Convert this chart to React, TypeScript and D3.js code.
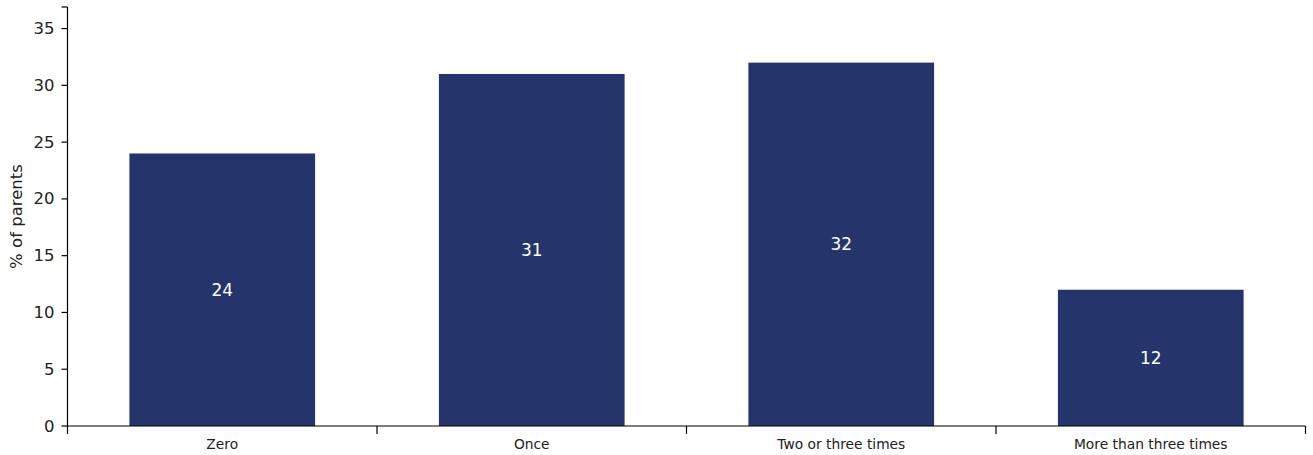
import React from "react";
import * as d3 from "d3";

const categories = ["Zero", "Once", "Two or three times", "More than three times"];
const values = [24, 31, 32, 12];
const yTicks = [0, 5, 10, 15, 20, 25, 30, 35];
const yMax = 36.9;

const W = 1313;
const H = 455;
const left = 67.5;
const right = 1305.5;
const top = 7;
const bottom = 426;
const font = "DejaVu Sans, sans-serif";
const barColor = "#25356b";

export default function App() {
  const x = d3.scaleBand<string>().domain(categories).range([left, right]).paddingInner(0.4).paddingOuter(0.2);
  const y = d3.scaleLinear().domain([0, yMax]).range([bottom, top]);
  const step = x.step();
  const boundaries = d3.range(categories.length + 1).map((i) => left + i * step);

  return (
    <svg width={W} height={H} style={{ position: "absolute", left: 0, top: 0, background: "#fff" }}>
      {categories.map((c, i) => (
        <g key={c}>
          <rect x={x(c)} y={y(values[i])} width={x.bandwidth()} height={bottom - y(values[i])} fill={barColor} />
          <text
            x={(x(c) as number) + x.bandwidth() / 2}
            y={(y(values[i]) + bottom) / 2}
            fill="#fff"
            fontFamily={font}
            fontSize={17}
            textAnchor="middle"
            dominantBaseline="central"
          >
            {values[i]}
          </text>
          <text
            x={(x(c) as number) + x.bandwidth() / 2}
            y={449}
            fill="#222"
            fontFamily={font}
            fontSize={13.8}
            textAnchor="middle"
          >
            {c}
          </text>
        </g>
      ))}
      <line x1={left} x2={left} y1={top} y2={bottom} stroke="#000" strokeWidth={1.2} />
      <line x1={left - 6} x2={left} y1={top} y2={top} stroke="#000" strokeWidth={1.2} />
      <line x1={left} x2={right} y1={bottom} y2={bottom} stroke="#000" strokeWidth={1.2} />
      {yTicks.map((t) => (
        <g key={t}>
          <line x1={left - 6} x2={left} y1={y(t)} y2={y(t)} stroke="#000" strokeWidth={1.2} />
          <text x={left - 13} y={y(t)} fontFamily={font} fontSize={16.5} textAnchor="end" dominantBaseline="central" fill="#222">
            {t}
          </text>
        </g>
      ))}
      {boundaries.map((b, i) => (
        <line key={i} x1={b} x2={b} y1={bottom} y2={bottom + 8} stroke="#000" strokeWidth={1.2} />
      ))}
      <text
        transform={`translate(22,${(top + bottom) / 2}) rotate(-90)`}
        fontFamily={font}
        fontSize={16.5}
        textAnchor="middle"
        fill="#222"
      >
        % of parents
      </text>
    </svg>
  );
}
